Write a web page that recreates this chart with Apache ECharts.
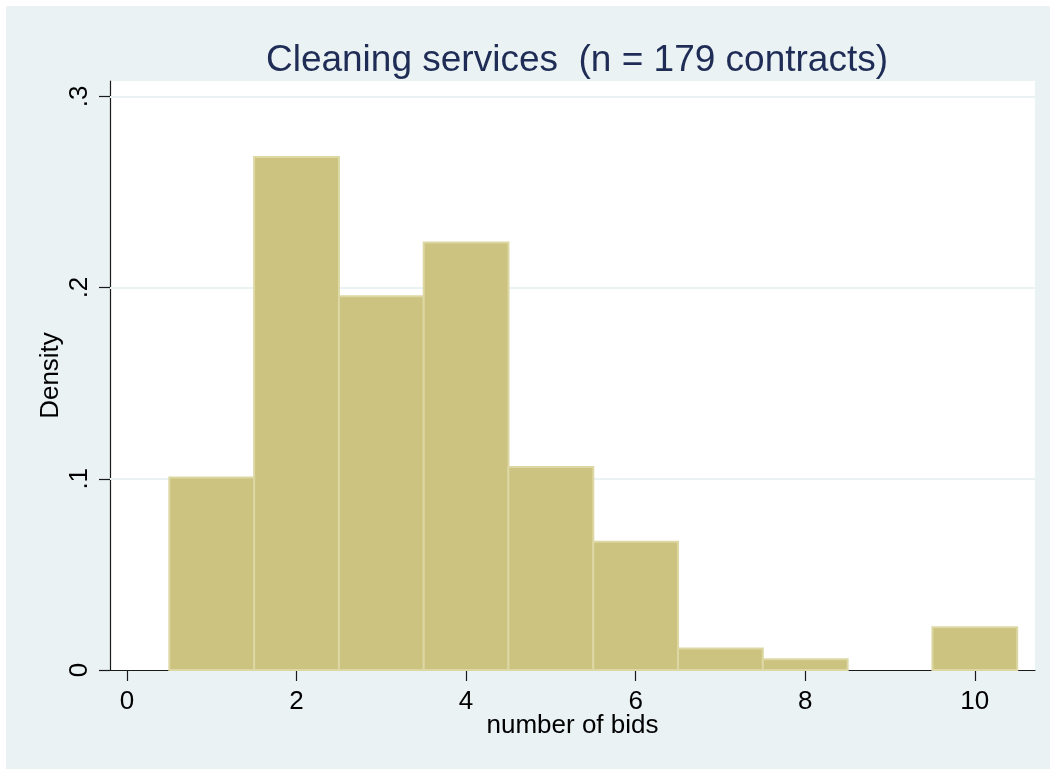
<!DOCTYPE html>
<html>
<head>
<meta charset="utf-8">
<script src="https://cdn.jsdelivr.net/npm/echarts@6/dist/echarts.min.js"></script>
<style>
  html, body { margin: 0; padding: 0; background: #ffffff; width: 1050px; height: 769px; overflow: hidden; }
  #chart { position: absolute; left: 6px; top: 6px; width: 1044px; height: 763px; }
</style>
</head>
<body>
<div id="chart"></div>
<script>
// ---- data ----
const binCenters = [1, 2, 3, 4, 5, 6, 7, 8, 9, 10];
const densities = [0.1006, 0.2682, 0.1955, 0.2235, 0.1061, 0.0670, 0.0112, 0.0056, 0.0, 0.0223];
const binWidth = 1;
const xTicks = [0, 2, 4, 6, 8, 10];
const yTicks = [0, 0.1, 0.2, 0.3];
const yTickLabels = ['0', '.1', '.2', '.3'];
const titleText = 'Cleaning services  (n = 179 contracts)';
const xName = 'number of bids';
const yName = 'Density';

const FONT = "'Liberation Sans', Arial, Helvetica, sans-serif";
const chart = echarts.init(document.getElementById('chart'), null, { renderer: 'canvas' });

const histData = binCenters.map((c, i) => [c, densities[i]]);

const option = {
  animation: false,
  backgroundColor: '#eaf2f3',
  title: {
    text: titleText,
    left: 566,
    top: 31,
    textAlign: 'center',
    textStyle: { fontFamily: FONT, fontSize: 37, fontWeight: 'normal', color: '#1e2c56' }
  },
  grid: {
    left: 104, right: 15, top: 75, bottom: 99,
    show: true, backgroundColor: '#ffffff', borderWidth: 0
  },
  xAxis: {
    type: 'value',
    min: -0.2, max: 10.71,
    name: xName,
    nameLocation: 'middle',
    nameGap: 43,
    nameMoveOverlap: false,
    nameTextStyle: { fontFamily: FONT, fontSize: 26, color: '#000' },
    axisLine: { show: true, onZero: false, lineStyle: { color: '#1a1a1a', width: 1.2 } },
    axisTick: { show: true, length: 11, customValues: xTicks, lineStyle: { color: '#1a1a1a', width: 1.2 } },
    axisLabel: {
      customValues: xTicks, margin: 19,
      fontFamily: FONT, fontSize: 26, color: '#000',
      formatter: v => String(v)
    },
    splitLine: { show: false }
  },
  yAxis: {
    type: 'value',
    min: 0, max: 0.308,
    name: yName,
    nameLocation: 'middle',
    nameGap: 46,
    nameMoveOverlap: false,
    nameTextStyle: { fontFamily: FONT, fontSize: 26, color: '#000' },
    axisLine: { show: true, onZero: false, lineStyle: { color: '#1a1a1a', width: 1.2 } },
    axisTick: { show: true, length: 11, customValues: yTicks, lineStyle: { color: '#1a1a1a', width: 1.2 } },
    axisLabel: {
      customValues: yTicks, margin: 17, rotate: 90,
      fontFamily: FONT, fontSize: 26, color: '#000',
      formatter: v => {
        const i = yTicks.findIndex(t => Math.abs(t - v) < 1e-9);
        return i >= 0 ? yTickLabels[i] : '';
      }
    },
    splitLine: { show: false }
  },
  series: [
    {
      type: 'line',
      data: [],
      silent: true,
      z: 1,
      markLine: {
        silent: true,
        z: 1,
        symbol: 'none',
        label: { show: false },
        lineStyle: { color: '#eaf2f3', width: 2, type: 'solid' },
        emphasis: { disabled: true },
        data: yTicks.filter(t => t > 0).map(t => ({ yAxis: t }))
      }
    },
    {
      type: 'custom',
      z: 3,
      data: histData,
      renderItem: function (params, api) {
        const c = api.value(0);
        const d = api.value(1);
        if (!(d > 0)) return null;
        const p0 = api.coord([c - binWidth / 2, d]);
        const p1 = api.coord([c + binWidth / 2, 0]);
        return {
          type: 'rect',
          shape: { x: p0[0], y: p0[1], width: p1[0] - p0[0], height: p1[1] - p0[1] },
          style: { fill: '#cbc37f', stroke: '#ddd7a4', lineWidth: 2 }
        };
      }
    }
  ]
};
chart.setOption(option);
</script>
</body>
</html>
